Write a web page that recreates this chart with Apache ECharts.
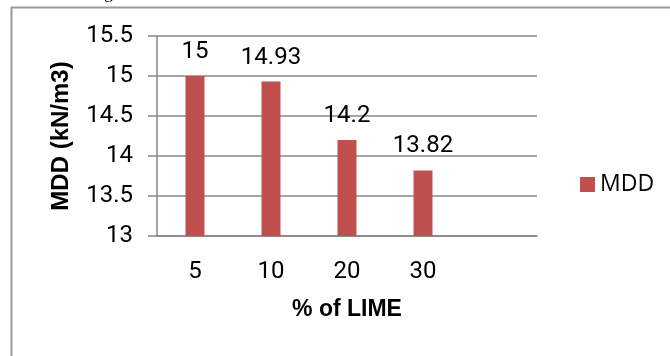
<!DOCTYPE html>
<html>
<head>
<meta charset="utf-8">
<style>
  html, body { margin: 0; padding: 0; background: #fff; }
  #chart { width: 670px; height: 356px; }
</style>
<script src="https://cdn.jsdelivr.net/npm/echarts@6/dist/echarts.min.js"></script>
</head>
<body>
<div id="chart"></div>
<script>
// Lime content (%) against maximum dry density
const categories = ['5', '10', '20', '30', ''];
const mddValues = [15, 14.93, 14.2, 13.82, null];
const yTicks = { min: 13, max: 15.5, interval: 0.5 };

const seriesName = 'MDD';
const xTitle = '% of LIME';
const yTitle = 'MDD (kN/m3)';

const gridGray = '#878787';
const barRed = '#C0504D';
const numFont = 'Roboto';

const chart = echarts.init(document.getElementById('chart'), null, { renderer: 'canvas' });

chart.setOption({
  animation: false,
  backgroundColor: '#fff',
  graphic: [
    // frame edges around the chart area
    { type: 'line', shape: { x1: 11, y1: 7.5, x2: 670, y2: 7.5 }, style: { stroke: '#9a9a9a', lineWidth: 2 } },
    { type: 'line', shape: { x1: 11.5, y1: 7, x2: 11.5, y2: 356 }, style: { stroke: '#9a9a9a', lineWidth: 2 } },
    // tail of the caption line above the frame
    { type: 'text', left: 104, top: -16, style: { text: 'g', font: '18px "Liberation Serif"', fill: '#000' } }
  ],
  grid: { left: 157, right: 133, top: 36, bottom: 120, containLabel: false, outerBoundsMode: 'none' },
  legend: {
    orient: 'vertical',
    left: 575,
    top: 168,
    icon: 'rect',
    itemWidth: 15,
    itemHeight: 15,
    itemGap: 5,
    textStyle: { fontFamily: 'Open Sans', fontSize: 23, color: '#000' },
    data: [seriesName]
  },
  xAxis: {
    type: 'category',
    data: categories,
    name: xTitle,
    nameLocation: 'middle',
    nameGap: 62,
    nameTextStyle: { fontFamily: 'Liberation Sans', fontWeight: 'bold', fontSize: 23, color: '#000' },
    axisLine: { show: true, lineStyle: { color: gridGray, width: 1.5 } },
    axisTick: { show: false },
    axisLabel: { fontFamily: numFont, fontSize: 24, color: '#000', margin: 24, interval: 0 }
  },
  yAxis: {
    type: 'value',
    min: yTicks.min,
    max: yTicks.max,
    interval: yTicks.interval,
    name: yTitle,
    nameLocation: 'middle',
    nameGap: 84,
    nameTextStyle: { fontFamily: 'Liberation Sans', fontWeight: 'bold', fontSize: 24, color: '#000' },
    axisLine: { show: true, lineStyle: { color: gridGray, width: 1.5 } },
    axisTick: { show: true, length: 9, lineStyle: { color: gridGray, width: 1.5 } },
    axisLabel: { fontFamily: numFont, fontSize: 24, color: '#000', margin: 24 },
    splitLine: { show: true, lineStyle: { color: gridGray, width: 1.5 } }
  },
  series: [{
    name: seriesName,
    type: 'bar',
    data: mddValues,
    barWidth: 19,
    itemStyle: { color: barRed },
    label: {
      show: true,
      position: 'top',
      distance: 12,
      fontFamily: numFont,
      fontSize: 24,
      color: '#000'
    }
  }]
});
</script>
</body>
</html>
